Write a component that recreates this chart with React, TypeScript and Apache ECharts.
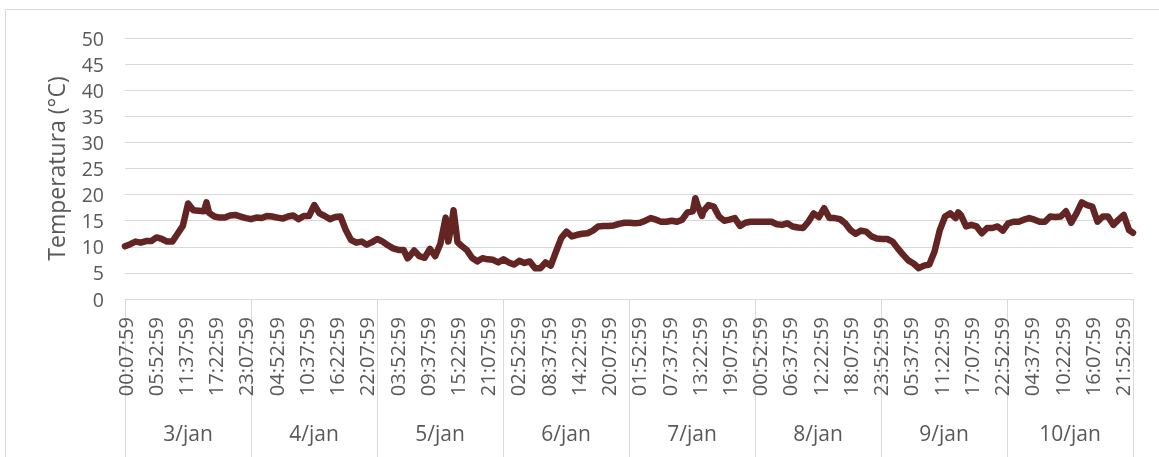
import React, { useEffect, useRef } from "react";
import * as echarts from "echarts";

// Tick labels of the time axis (one every 23 readings of 15 minutes)
const tickLabels = [
  "00:07:59", "05:52:59", "11:37:59", "17:22:59", "23:07:59",
  "04:52:59", "10:37:59", "16:22:59", "22:07:59",
  "03:52:59", "09:37:59", "15:22:59", "21:07:59",
  "02:52:59", "08:37:59", "14:22:59", "20:07:59",
  "01:52:59", "07:37:59", "13:22:59", "19:07:59",
  "00:52:59", "06:37:59", "12:22:59", "18:07:59", "23:52:59",
  "05:37:59", "11:22:59", "17:07:59", "22:52:59",
  "04:37:59", "10:22:59", "16:07:59", "21:52:59",
];

const dayLabels = ["3/jan", "4/jan", "5/jan", "6/jan", "7/jan", "8/jan", "9/jan", "10/jan"];

// Hourly readings (°C), hour 0 = 3/jan 00:07:59
const hourlyTemps = [
  // 3/jan
  10.1, 10.5, 11.0, 10.8, 11.1, 11.1, 11.8, 11.5, 11.0, 11.0, 12.5, 14.0,
  18.3, 17.0, 16.9, 16.8, 16.5, 15.8, 15.6, 15.6, 16.0, 16.1, 15.8, 15.5,
  // 4/jan
  15.3, 15.6, 15.5, 15.9, 15.8, 15.6, 15.4, 15.8, 16.0, 15.3, 15.9, 15.9,
  18.0, 16.4, 15.9, 15.3, 15.7, 15.8, 13.2, 11.3, 10.8, 11.0, 10.4, 10.9,
  // 5/jan
  11.5, 11.0, 10.3, 9.7, 9.4, 9.4, 8.0, 9.3, 8.2, 7.9, 9.6, 8.2,
  10.6, 15.6, 13.5, 13.0, 10.2, 9.4, 7.9, 7.2, 7.8, 7.6, 7.5, 7.0,
  // 6/jan
  7.6, 7.0, 6.6, 7.3, 6.9, 7.2, 5.9, 5.9, 7.0, 6.4, 9.1, 11.7,
  12.9, 12.0, 12.3, 12.5, 12.6, 13.1, 13.9, 14.0, 14.0, 14.1, 14.4, 14.6,
  // 7/jan
  14.6, 14.5, 14.6, 15.0, 15.5, 15.2, 14.8, 14.8, 15.0, 14.8, 15.2, 16.6,
  16.8, 17.7, 16.8, 18.0, 17.7, 15.8, 15.0, 15.2, 15.5, 14.0, 14.6, 14.8,
  // 8/jan
  14.8, 14.8, 14.8, 14.8, 14.3, 14.2, 14.5, 13.9, 13.7, 13.6, 14.8, 16.4,
  15.7, 17.4, 15.5, 15.5, 15.3, 14.5, 13.2, 12.5, 13.1, 12.9, 12.0, 11.6,
  // 9/jan
  11.5, 11.5, 11.0, 9.7, 8.5, 7.4, 6.8, 5.9, 6.4, 6.6, 9.1, 13.2,
  15.8, 16.4, 15.5, 16.1, 13.9, 14.2, 13.9, 12.6, 13.6, 13.6, 13.9, 13.1,
  // 10/jan
  14.5, 14.8, 14.8, 15.2, 15.5, 15.2, 14.8, 14.8, 15.8, 15.7, 15.8, 16.8,
  14.6, 16.4, 18.5, 18.0, 17.7, 14.8, 15.8, 15.8, 14.2, 15.2, 16.1, 13.2,
];

// Extra readings between the hours (peaks, dips, last reading); step = 15 min index
const extraSteps = [62, 215, 246, 250, 253, 434, 439, 634, 767];
const extraTemps = [18.5, 7.8, 11.0, 17.0, 10.9, 19.3, 15.9, 16.6, 12.7];

const TEXT = "#595959";
const GRID = "#d9d9d9";

export default function App() {
  const ref = useRef<HTMLDivElement>(null);
  useEffect(() => {
    const chart = echarts.init(ref.current!, null, { renderer: "svg" });
    const points = [
      ...hourlyTemps.map((v, i) => [i * 4, v]),
      ...extraSteps.map((s, i) => [s, extraTemps[i]]),
    ].sort((a, b) => a[0] - b[0]);

    chart.setOption({
      animation: false,
      textStyle: { fontFamily: "Open Sans" },
      grid: { left: 125, right: 26, top: 38, bottom: 158 },
      xAxis: [
        {
          type: "value",
          min: 0,
          max: 767,
          interval: 23,
          axisLine: { show: false },
          axisTick: { show: false },
          splitLine: { show: false },
          axisLabel: {
            rotate: 90,
            margin: 18,
            fontSize: 20,
            color: TEXT,
            showMinLabel: true,
            showMaxLabel: false,
            formatter: (v: number) =>
              v % 23 === 0 && tickLabels[v / 23] ? tickLabels[v / 23] : "",
          },
        },
        {
          type: "category",
          data: dayLabels,
          position: "bottom",
          boundaryGap: true,
          axisLine: { show: true, lineStyle: { color: GRID, width: 1 } },
          axisTick: { show: true, interval: 0, length: 158, lineStyle: { color: GRID, width: 1 } },
          axisLabel: { interval: 0, margin: 123, fontSize: 21, color: TEXT },
          splitLine: { show: false },
        },
      ],
      yAxis: {
        type: "value",
        min: 0,
        max: 50,
        interval: 5,
        name: "Temperatura (°C)",
        nameLocation: "middle",
        nameGap: 58,
        nameRotate: 90,
        nameTextStyle: { fontSize: 23, color: TEXT },
        axisLabel: { fontSize: 19.5, color: TEXT, margin: 21 },
        axisLine: { show: false },
        axisTick: { show: false },
        splitLine: { lineStyle: { color: GRID, width: 1 } },
      },
      series: [
        {
          type: "line",
          xAxisIndex: 0,
          data: points,
          symbol: "none",
          showSymbol: false,
          lineStyle: { color: "#632523", width: 6.5, cap: "round", join: "round" },
        },
      ],
      graphic: [
        {
          type: "rect",
          silent: true,
          shape: { x: 5.5, y: 9.5, width: 1300, height: 600 },
          style: { fill: "none", stroke: GRID, lineWidth: 1 },
        },
      ],
    });
    return () => chart.dispose();
  }, []);
  return (
    <div
      ref={ref}
      style={{ position: "fixed", left: 0, top: 0, width: 1159, height: 457 }}
    />
  );
}
